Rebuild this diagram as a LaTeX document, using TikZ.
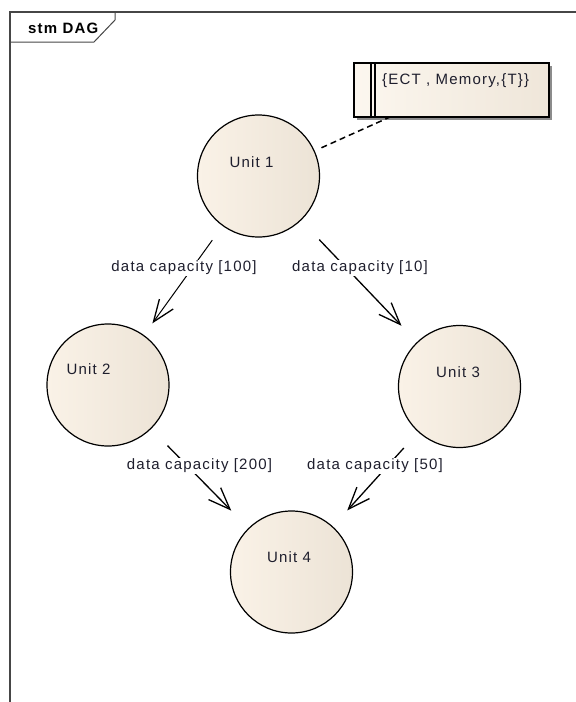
\documentclass[tikz,border=0pt]{standalone}
\usepackage{fontspec}
\setmainfont{Liberation Sans}[LetterSpace=8]
\usetikzlibrary{arrows.meta,shadows}
\definecolor{creamL}{RGB}{250,242,231}
\definecolor{creamM}{RGB}{252,247,239}
\definecolor{creamR}{RGB}{236,227,214}
\definecolor{framec}{RGB}{70,70,70}
\definecolor{txtc}{RGB}{30,30,45}
\begin{document}
\begin{tikzpicture}[x=1pt,y=-1pt,
  unit/.style={circle,draw=black,line width=1.2pt,minimum size=122pt,inner sep=0pt,outer sep=0pt,
    left color=creamL,middle color=creamM,right color=creamR},
  utext/.style={font=\fontsize{15}{17}\selectfont,text=txtc,inner sep=0pt},
  lbl/.style={font=\fontsize{15}{17}\selectfont,text=txtc,fill=white,inner sep=1pt},
  flow/.style={line width=1.3pt,-{Straight Barb[length=22pt,width=17pt,line width=1.3pt]}},
  notebox/.style={draw=black,line width=1.2pt,left color=creamM,right color=creamR!80!creamL,
    minimum width=195pt,minimum height=54pt,inner sep=0pt,
    drop shadow={shadow xshift=3pt,shadow yshift=-3pt,opacity=1,fill=black!45}},
  framel/.style={draw=framec,line width=1.5pt}]
\useasboundingbox (0,0) rectangle (576,702);
% frame
\draw[framel] (10,702) -- (10,12) -- (576,12);
\draw[framel,line width=1pt] (10,42) -- (94,42) -- (115,20) -- (115,12);
\node[font=\fontsize{15}{17}\selectfont\bfseries,anchor=west,inner sep=0pt] (title) at (28,28) {stm DAG};
% note
\node[notebox] (note) at (451.5,90) {};
\draw[line width=1.2pt] (371,63) -- (371,117);
\draw[line width=1.2pt] (375,63) -- (375,117);
\node[utext,anchor=west] (notet) at (382,81) {\{ECT , Memory,\{T\}\}};
% units
\node[unit] (u1) at (258.5,176) {};
\node[unit] (u2) at (108,385) {};
\node[unit] (u3) at (459.5,386.5) {};
\node[unit] (u4) at (291.5,572) {};
\node[utext] (u1t) at (251.5,162.5) {Unit 1};
\node[utext] (u2t) at (88.5,369) {Unit 2};
\node[utext] (u3t) at (458,372) {Unit 3};
\node[utext] (u4t) at (289,557.5) {Unit 4};
% dashed connector
\coordinate (nc) at (390,117);
\draw[line width=1.5pt,dash pattern=on 6pt off 4pt,shorten <=8pt] (u1) -- (nc);
% flows
\draw[flow,line width=1pt,shorten <=18pt,shorten >=15pt] (u1) -- (u2);
\draw[flow,shorten <=27pt,shorten >=23pt] (u1) -- (u3);
\draw[flow,shorten <=24pt,shorten >=25pt] (u2) -- (u4);
\draw[flow,shorten <=22pt,shorten >=22pt] (u3) -- (u4);
% labels
\node[lbl] (l12) at (184,268) {data capacity [100]};
\node[lbl] (l13) at (360,268) {data capacity [10]};
\node[lbl] (l24) at (199.5,466) {data capacity [200]};
\node[lbl] (l34) at (375,466) {data capacity [50]};
\end{tikzpicture}
\end{document}
